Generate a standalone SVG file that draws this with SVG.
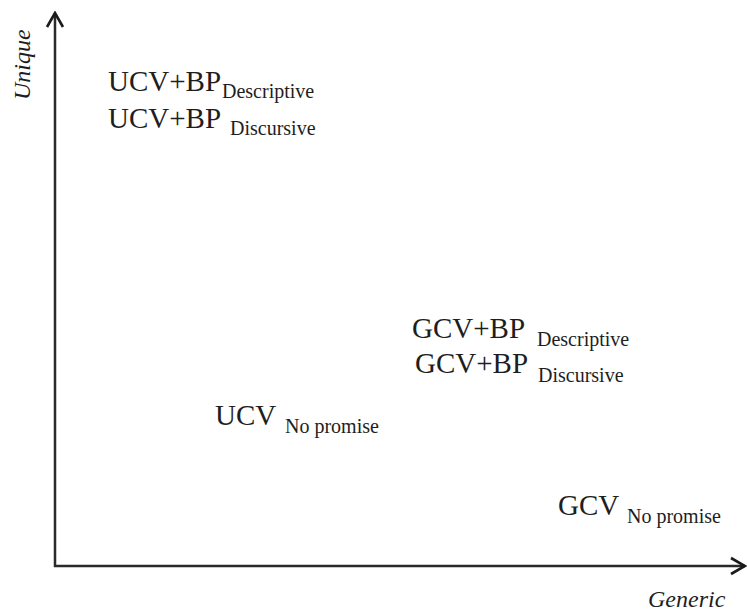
<svg xmlns="http://www.w3.org/2000/svg" width="748" height="612" viewBox="0 0 748 612">
  <style>
    .axis { fill: none; stroke: #2a2a2a; stroke-width: 2.5; }
    .main { font-family: "Liberation Serif", "Times New Roman", serif; font-size: 29px; fill: #1e1e1e; }
    .sub { font-family: "Liberation Serif", "Times New Roman", serif; font-size: 20px; fill: #1e1e1e; }
    .label { font-family: "Liberation Serif", "Times New Roman", serif; font-size: 24px; font-style: italic; fill: #1e1e1e; }
  </style>
  <defs>
    <marker id="chevron" viewBox="-16 -10 18 20" markerWidth="18" markerHeight="20" refX="0" refY="0" markerUnits="userSpaceOnUse" orient="auto">
      <path d="M-14,-8 L0,0 L-14,8" fill="none" stroke="#1a1a1a" stroke-width="2.6" stroke-linejoin="miter"/>
    </marker>
  </defs>
  <rect width="748" height="612" fill="#ffffff"/>

  <!-- axes -->
  <g id="connectors">
    <path class="axis" d="M55,567 V13" marker-end="url(#chevron)"/>
    <path class="axis" d="M54,566 H745" marker-end="url(#chevron)"/>
  </g>

  <!-- axis labels -->
  <g id="axis-unique">
    <text class="label" transform="translate(30,100) rotate(-90)">Unique</text>
  </g>
  <g id="axis-generic">
    <text class="label" x="648" y="607">Generic</text>
  </g>

  <!-- positions -->
  <g id="ucv-bp-descriptive">
    <text class="main" x="108" y="91">UCV+BP</text>
    <text class="sub" x="222" y="98">Descriptive</text>
  </g>
  <g id="ucv-bp-discursive">
    <text class="main" x="108" y="128">UCV+BP</text>
    <text class="sub" x="230" y="135">Discursive</text>
  </g>
  <g id="gcv-bp-descriptive">
    <text class="main" x="412" y="338">GCV+BP</text>
    <text class="sub" x="537" y="346">Descriptive</text>
  </g>
  <g id="gcv-bp-discursive">
    <text class="main" x="415" y="373">GCV+BP</text>
    <text class="sub" x="538" y="382">Discursive</text>
  </g>
  <g id="ucv-no-promise">
    <text class="main" x="215" y="425">UCV</text>
    <text class="sub" x="285" y="433">No promise</text>
  </g>
  <g id="gcv-no-promise">
    <text class="main" x="558" y="515">GCV</text>
    <text class="sub" x="627" y="523">No promise</text>
  </g>
</svg>
